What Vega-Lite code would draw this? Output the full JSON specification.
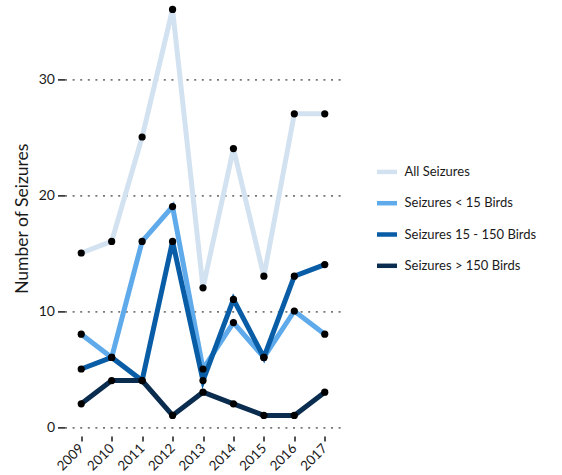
{
  "$schema": "https://vega.github.io/schema/vega-lite/v6.json",
  "autosize": "none",
  "width": 277,
  "height": 417.6,
  "padding": {"left": 64.5, "top": 9.4, "right": 220.5, "bottom": 48},
  "background": "white",
  "config": {
    "view": {"stroke": null},
    "font": "Lato",
    "axis": {"labelFont": "Lato", "titleFont": "Lato", "labelColor": "#1a1a1a", "titleColor": "#1a1a1a", "tickColor": "#1a1a1a"},
    "legend": {"labelFont": "Lato"}
  },
  "data": {
    "values": [
      {"year": "2009", "series": "All Seizures", "n": 15},
      {"year": "2010", "series": "All Seizures", "n": 16},
      {"year": "2011", "series": "All Seizures", "n": 25},
      {"year": "2012", "series": "All Seizures", "n": 36},
      {"year": "2013", "series": "All Seizures", "n": 12},
      {"year": "2014", "series": "All Seizures", "n": 24},
      {"year": "2015", "series": "All Seizures", "n": 13},
      {"year": "2016", "series": "All Seizures", "n": 27},
      {"year": "2017", "series": "All Seizures", "n": 27},
      {"year": "2009", "series": "Seizures < 15 Birds", "n": 8},
      {"year": "2010", "series": "Seizures < 15 Birds", "n": 6},
      {"year": "2011", "series": "Seizures < 15 Birds", "n": 16},
      {"year": "2012", "series": "Seizures < 15 Birds", "n": 19},
      {"year": "2013", "series": "Seizures < 15 Birds", "n": 5},
      {"year": "2014", "series": "Seizures < 15 Birds", "n": 9},
      {"year": "2015", "series": "Seizures < 15 Birds", "n": 6},
      {"year": "2016", "series": "Seizures < 15 Birds", "n": 10},
      {"year": "2017", "series": "Seizures < 15 Birds", "n": 8},
      {"year": "2009", "series": "Seizures 15 - 150 Birds", "n": 5},
      {"year": "2010", "series": "Seizures 15 - 150 Birds", "n": 6},
      {"year": "2011", "series": "Seizures 15 - 150 Birds", "n": 4},
      {"year": "2012", "series": "Seizures 15 - 150 Birds", "n": 16},
      {"year": "2013", "series": "Seizures 15 - 150 Birds", "n": 4},
      {"year": "2014", "series": "Seizures 15 - 150 Birds", "n": 11},
      {"year": "2015", "series": "Seizures 15 - 150 Birds", "n": 6},
      {"year": "2016", "series": "Seizures 15 - 150 Birds", "n": 13},
      {"year": "2017", "series": "Seizures 15 - 150 Birds", "n": 14},
      {"year": "2009", "series": "Seizures > 150 Birds", "n": 2},
      {"year": "2010", "series": "Seizures > 150 Birds", "n": 4},
      {"year": "2011", "series": "Seizures > 150 Birds", "n": 4},
      {"year": "2012", "series": "Seizures > 150 Birds", "n": 1},
      {"year": "2013", "series": "Seizures > 150 Birds", "n": 3},
      {"year": "2014", "series": "Seizures > 150 Birds", "n": 2},
      {"year": "2015", "series": "Seizures > 150 Birds", "n": 1},
      {"year": "2016", "series": "Seizures > 150 Birds", "n": 1},
      {"year": "2017", "series": "Seizures > 150 Birds", "n": 3}
    ]
  },
  "encoding": {
    "x": {
      "field": "year", "type": "ordinal",
      "scale": {"type": "point", "padding": 0.55},
      "axis": {"title": null, "domain": false, "grid": false, "ticks": true, "tickSize": 5, "tickWidth": 1.5, "offset": 9, "labelAngle": -45, "labelAlign": "right", "labelBaseline": "middle", "labelPadding": 5, "labelFontSize": 13.5}
    },
    "y": {
      "field": "n", "type": "quantitative",
      "scale": {"domain": [0, 36], "nice": false, "zero": true},
      "axis": {"title": "Number of Seizures", "titleFontSize": 17.5, "titleFontWeight": "normal", "titlePadding": 7, "values": [0, 10, 20, 30], "domain": false, "tickSize": 7, "tickWidth": 1.5, "labelPadding": 3, "labelFontSize": 14, "grid": true, "gridDash": [2, 5.6], "gridColor": "#777", "gridWidth": 1.8}
    }
  },
  "layer": [
    {
      "mark": {"type": "line", "strokeWidth": 5},
      "encoding": {
        "color": {
          "field": "series", "type": "nominal",
          "scale": {"domain": ["All Seizures", "Seizures < 15 Birds", "Seizures 15 - 150 Birds", "Seizures > 150 Birds"], "range": ["#d3e2f0", "#5eaaea", "#085da6", "#0a2c4e"]},
          "legend": {"title": null, "orient": "none", "legendX": 310, "legendY": 150, "symbolType": "stroke", "symbolSize": 400, "symbolStrokeWidth": 4.5, "labelFontSize": 13, "labelColor": "#1a1a1a", "labelOffset": 5, "rowPadding": 9.3, "padding": 0}
        },
        "order": {"field": "series"}
      }
    },
    {
      "mark": {"type": "point", "filled": true, "color": "black", "size": 52, "opacity": 1}
    }
  ]
}
